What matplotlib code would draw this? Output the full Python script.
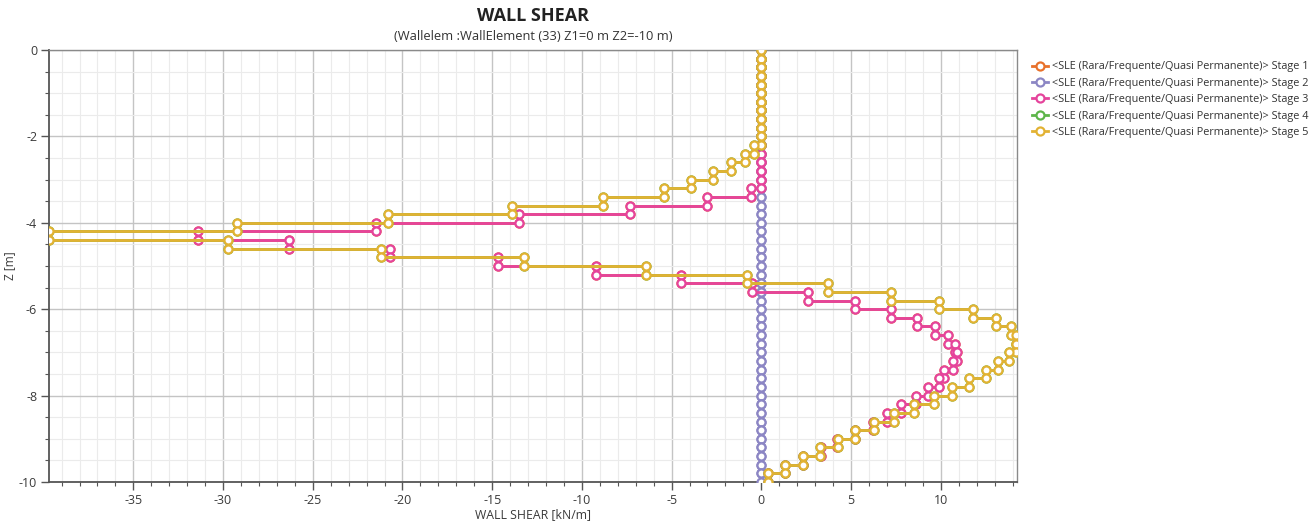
import numpy as np
import matplotlib
matplotlib.use("Agg")
import matplotlib.pyplot as plt
from matplotlib.ticker import MultipleLocator

# depth of element boundaries [m]
z_nodes = [0.0, -0.2, -0.4, -0.6, -0.8, -1.0, -1.2, -1.4, -1.6, -1.8,
           -2.0, -2.2, -2.4, -2.6, -2.8, -3.0, -3.2, -3.4, -3.6, -3.8,
           -4.0, -4.2, -4.4, -4.6, -4.8, -5.0, -5.2, -5.4, -5.6, -5.8,
           -6.0, -6.2, -6.4, -6.6, -6.8, -7.0, -7.2, -7.4, -7.6, -7.8,
           -8.0, -8.2, -8.4, -8.6, -8.8, -9.0, -9.2, -9.4, -9.6, -9.8,
           -10.0]

# wall shear per element [kN/m]
stage3 = [0.0] * 16 + [-0.6, -3.0, -7.3, -13.5, -21.5, -31.4, -26.3, -20.7,
                       -14.7, -9.2, -4.5, -0.5, 2.6, 5.2, 7.2, 8.7, 9.7, 10.4,
                       10.8, 10.9, 10.7, 10.2, 9.9, 9.3, 8.6, 7.8, 7.0, 6.2,
                       5.2, 4.2, 3.3, 2.3, 1.3, 0.4]
stage5 = [0.0] * 11 + [-0.4, -0.9, -1.7, -2.7, -3.9, -5.4, -8.8, -13.9, -20.8,
                       -29.2, -39.7, -29.7, -21.2, -13.2, -6.4, -0.8, 3.7, 7.2,
                       9.9, 11.8, 13.1, 13.9, 14.2, 14.2, 13.8, 13.2, 12.5,
                       11.6, 10.6, 9.6, 8.5, 7.4, 6.3, 5.2, 4.25, 3.25, 2.3,
                       1.3, 0.4]
stage1 = list(stage3)      # hidden below stage 3
stage2 = [0.0] * 50
stage4 = list(stage5)      # hidden below stage 5

label = "<SLE (Rara/Frequente/Quasi Permanente)> Stage "
stages = [stage1, stage2, stage3, stage4, stage5]
colors = ["#E8712B", "#8C86C4", "#E5449C", "#5DB54A", "#E2B233"]

plt.rcParams['font.family'] = ['Open Sans', 'DejaVu Sans']
plt.rcParams['axes.unicode_minus'] = False

fig = plt.figure(figsize=(13.15, 5.24), dpi=100)
ax = fig.add_axes([49 / 1315, 1 - 482 / 524, 968 / 1315, 432 / 524])


def step_path(vals):
    xs, zs = [], []
    for i, v in enumerate(vals):
        xs += [v, v]
        zs += [z_nodes[i], z_nodes[i + 1]]
    return xs, zs


for k, (vals, c) in enumerate(zip(stages, colors)):
    xs, zs = step_path(vals)
    ax.plot(xs, zs, color=c, lw=2, marker='o', ms=5.8, mfc='white',
            mec=c, mew=1.6, label=label + str(k + 1), zorder=3 + k)

allv = np.concatenate([np.array(s) for s in stages])
ax.set_xlim(allv.min(), allv.max() + 0.05)
ax.set_ylim(-10, 0)

ax.xaxis.set_major_locator(MultipleLocator(5))
ax.xaxis.set_minor_locator(MultipleLocator(1))
ax.yaxis.set_major_locator(MultipleLocator(2))
ax.yaxis.set_minor_locator(MultipleLocator(0.5))
ax.grid(True, which='major', color='#c4c4c4', lw=1.0)
ax.grid(True, which='minor', color='#ebebeb', lw=0.8)
ax.set_axisbelow(True)

for s in ['top', 'right']:
    ax.spines[s].set_color('#8a8a8a')
    ax.spines[s].set_linewidth(1.0)
for s in ['left', 'bottom']:
    ax.spines[s].set_color('#555555')
    ax.spines[s].set_linewidth(1.3)

ax.tick_params(which='major', direction='out', length=6, width=1, pad=2.5,
               color='#555555', labelsize=9, labelcolor='#3a3a3a')
ax.tick_params(which='minor', direction='out', length=3, width=0.8,
               color='#555555')

ax.set_xlabel("WALL SHEAR [kN/m]", fontsize=8.8, color='#3a3a3a', labelpad=1)
ax.set_ylabel("Z [m]", fontsize=8.5, color='#3a3a3a')
ax.yaxis.set_label_coords(-0.034, 0.5)

fig.text(533 / 1315, 1 - 16 / 524, "WALL SHEAR", ha='center', va='center',
         fontsize=13, fontweight='bold', color='#222222')
fig.text(533 / 1315, 1 - 37 / 524, "(Wallelem :WallElement (33) Z1=0 m Z2=-10 m)",
         ha='center', va='center', fontsize=9.3, color='#333333')

fig.legend(loc='upper left', bbox_to_anchor=(1028 / 1315, 1 - 57 / 524),
           frameon=False, fontsize=7.8, handlelength=1.4, handletextpad=0.45,
           labelspacing=0.5, borderaxespad=0, labelcolor='#333333')

fig.savefig("out.png", dpi=100)
